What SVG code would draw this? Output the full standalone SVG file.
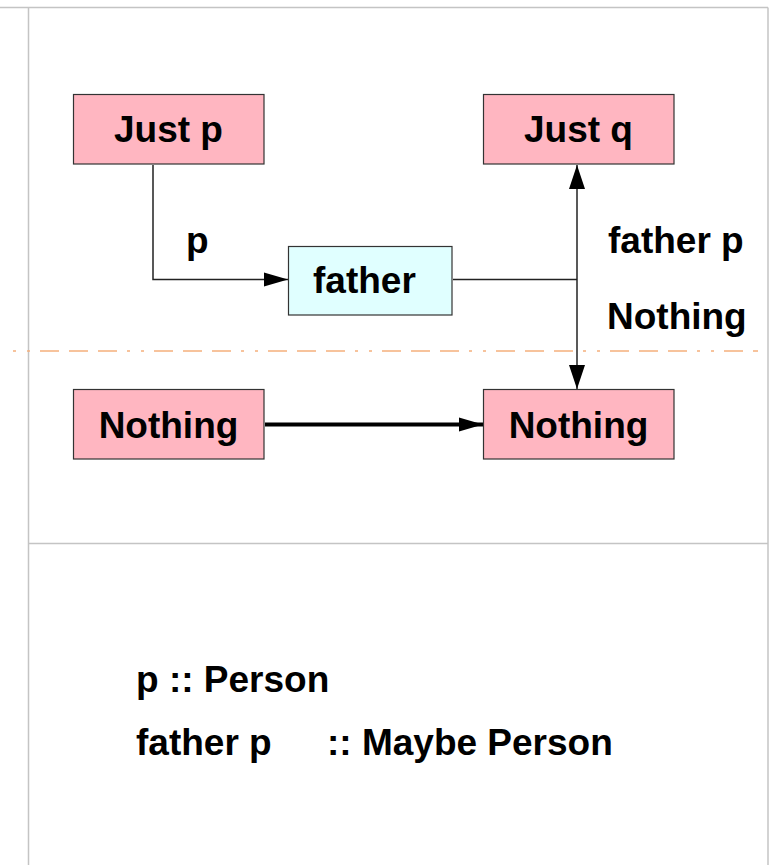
<svg xmlns="http://www.w3.org/2000/svg" width="773" height="865" viewBox="0 0 773 865">
  <style>
    .frame { stroke: #c4c4c4; stroke-width: 1.5; fill: none; }
    .box { stroke: #333333; stroke-width: 1.2; }
    .pink { fill: #ffb6c1; }
    .cyan { fill: #e0ffff; }
    .lbl { font-family: "Liberation Sans", Arial, sans-serif; font-weight: bold; font-size: 37px; fill: #000000; }
    .mid { text-anchor: middle; }
    .wire { stroke: #222222; stroke-width: 1.5; fill: none; }
    .thick { stroke: #000000; stroke-width: 4; fill: none; }
    .sep { stroke: #f5b07c; stroke-width: 1.5; fill: none; stroke-dasharray: 3 11 3 10 19 10 19 10 19 10; }
  </style>
  <defs>
    <marker id="tip" markerUnits="userSpaceOnUse" markerWidth="24" markerHeight="16" refX="24" refY="8" orient="auto">
      <path d="M0,1 L24,8 L0,15 Z" fill="#000000"/>
    </marker>
    <marker id="tipBoth" markerUnits="userSpaceOnUse" markerWidth="24" markerHeight="16" refX="24" refY="8" orient="auto-start-reverse">
      <path d="M0,0 L24,8 L0,16 Z" fill="#000000"/>
    </marker>
  </defs>

  <rect x="0" y="0" width="773" height="865" fill="#ffffff"/>

  <!-- page frame -->
  <g id="frame">
    <line class="frame" x1="0" y1="7.5" x2="768" y2="7.5"/>
    <line class="frame" x1="28.5" y1="7.5" x2="28.5" y2="865"/>
    <line class="frame" x1="768" y1="7.5" x2="768" y2="865"/>
    <line class="frame" x1="28.5" y1="543.5" x2="768" y2="543.5"/>
  </g>

  <!-- dash-dot divider -->
  <line class="sep" x1="13" y1="351" x2="758" y2="351"/>

  <!-- connectors -->
  <g id="connectors">
    <polyline class="wire" points="153,165 153,279.5 288,279.5" marker-end="url(#tip)"/>
    <line class="wire" x1="453" y1="279.5" x2="577" y2="279.5"/>
    <line class="wire" x1="577" y1="165" x2="577" y2="389" marker-start="url(#tipBoth)" marker-end="url(#tipBoth)"/>
    <line class="thick" x1="265" y1="424.5" x2="483" y2="424.5" marker-end="url(#tip)"/>
  </g>

  <g id="just-p">
    <rect class="box pink" x="73.5" y="94.5" width="190.5" height="69.5"/>
    <text class="lbl mid" x="168.5" y="142">Just p</text>
  </g>

  <g id="just-q">
    <rect class="box pink" x="483.5" y="94.5" width="190.5" height="69.5"/>
    <text class="lbl mid" x="578.5" y="142">Just q</text>
  </g>

  <g id="father">
    <rect class="box cyan" x="288.5" y="246.5" width="163.5" height="68.5"/>
    <text class="lbl" x="313" y="293">father</text>
  </g>

  <g id="nothing-left">
    <rect class="box pink" x="73.5" y="389.5" width="190.5" height="69.5"/>
    <text class="lbl mid" x="168.5" y="438">Nothing</text>
  </g>

  <g id="nothing-right">
    <rect class="box pink" x="483.5" y="389.5" width="190.5" height="69.5"/>
    <text class="lbl mid" x="578.5" y="438">Nothing</text>
  </g>

  <!-- edge labels -->
  <g id="edge-labels">
    <text class="lbl" x="186" y="253">p</text>
    <text class="lbl" x="608" y="253">father p</text>
    <text class="lbl" x="607" y="329">Nothing</text>
  </g>

  <!-- type notes -->
  <g id="types">
    <text class="lbl" x="136" y="692">p :: Person</text>
    <text class="lbl" x="136" y="755">father p<tspan x="327">:: Maybe Person</tspan></text>
  </g>
</svg>
